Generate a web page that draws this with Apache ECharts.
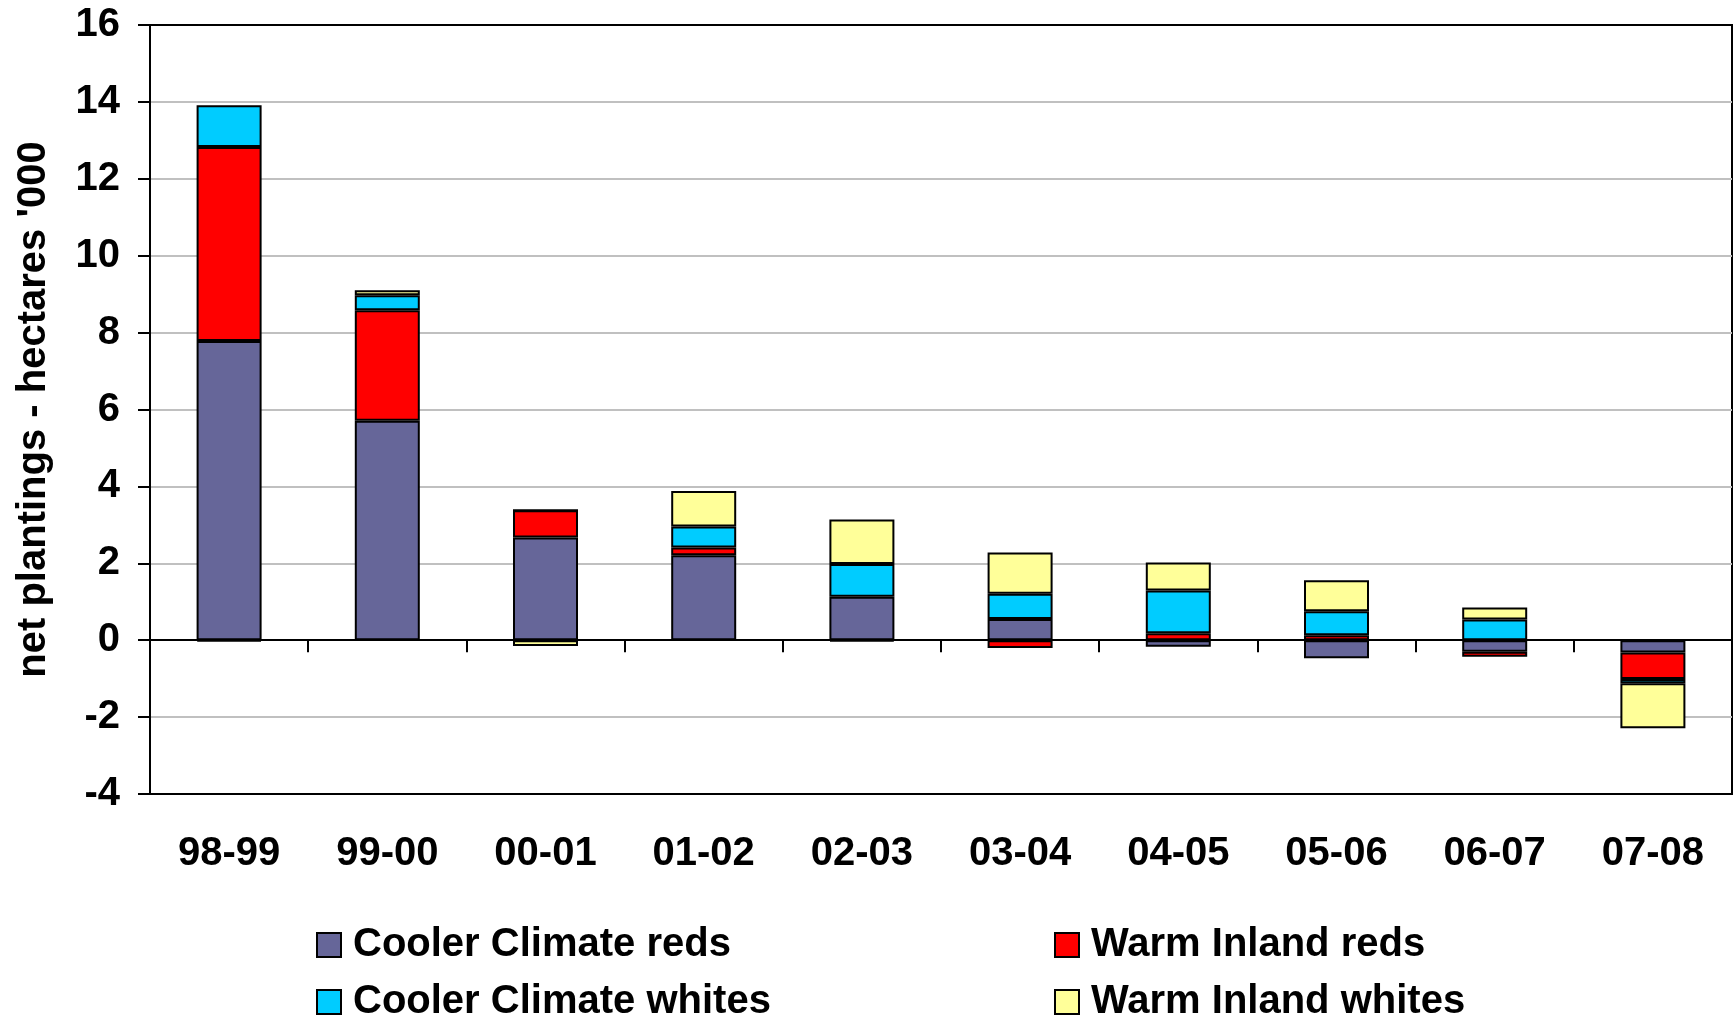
<!DOCTYPE html>
<html>
<head>
<meta charset="utf-8">
<script src="https://cdn.jsdelivr.net/npm/echarts@6/dist/echarts.min.js"></script>
<style>
html,body{margin:0;padding:0;background:#fff;}
#chart{width:1735px;height:1018px;}
</style>
</head>
<body>
<div id="chart"></div>
<script>
const categories = ['98-99','99-00','00-01','01-02','02-03','03-04','04-05','05-06','06-07','07-08'];
const coolerReds   = [7.78, 5.71, 2.67, 2.21, 1.13, 0.55, -0.17, -0.47, -0.30, -0.32];
const warmReds     = [5.05, 2.87, 0.71, 0.20, -0.03, -0.20, 0.18, 0.13, -0.13, -0.69];
const coolerWhites = [1.08, 0.39, 0.00, 0.55, 0.85, 0.66, 1.11, 0.62, 0.54, -0.11];
const warmWhites   = [-0.03, 0.13, -0.15, 0.92, 1.16, 1.07, 0.73, 0.81, 0.31, -1.17];
const yTicks = {min: -4, max: 16, interval: 2};

const FONT = 'Liberation Sans';
const chart = echarts.init(document.getElementById('chart'), null, {renderer: 'canvas'});

function barSeries(name, data, color) {
  return {
    name: name, type: 'bar', stack: 'all', data: data, xAxisIndex: 0,
    barWidth: 65,
    itemStyle: {color: color, borderColor: '#000', borderWidth: 2},
    emphasis: {disabled: true}
  };
}

const legendText = {fontFamily: FONT, fontSize: 40, fontWeight: 'bold', color: '#000', padding: [0, 0, 0, 7]};
function legendItem(name, left, top) {
  return {data: [name], left: left, top: top, itemWidth: 24, itemHeight: 24, padding: 0,
          icon: 'rect', textStyle: legendText, selectedMode: false,
          itemStyle: {borderColor: '#000', borderWidth: 2}};
}

chart.setOption({
  animation: false,
  textStyle: {fontFamily: FONT},
  grid: {left: 150, right: 3, top: 25, bottom: 224, show: true, borderColor: '#000', borderWidth: 2, containLabel: false},
  legend: [
    legendItem('Cooler Climate reds', 316, 925),
    legendItem('Cooler Climate whites', 316, 982),
    legendItem('Warm Inland reds', 1054, 925),
    legendItem('Warm Inland whites', 1054, 982)
  ],
  xAxis: [
    {type: 'category', data: categories, position: 'bottom',
     axisLine: {onZero: true, lineStyle: {color: '#000', width: 2}},
     axisTick: {show: true, alignWithLabel: false, length: 12, lineStyle: {color: '#000', width: 2}},
     axisLabel: {show: false}, splitLine: {show: false}},
    {type: 'category', data: categories, position: 'bottom',
     axisLine: {show: false, onZero: false}, axisTick: {show: false},
     axisLabel: {show: true, margin: 40, fontFamily: FONT, fontSize: 40, fontWeight: 'bold', color: '#000', interval: 0},
     splitLine: {show: false}}
  ],
  yAxis: {
    type: 'value', min: yTicks.min, max: yTicks.max, interval: yTicks.interval,
    name: "net plantings - hectares '000", nameLocation: 'middle', nameGap: 96,
    nameTextStyle: {fontFamily: FONT, fontSize: 40, fontWeight: 'bold', color: '#000'},
    axisLine: {show: true, lineStyle: {color: '#000', width: 2}},
    axisTick: {show: true, length: 12, lineStyle: {color: '#000', width: 2}},
    axisLabel: {margin: 30, fontFamily: FONT, fontSize: 40, fontWeight: 'bold', color: '#000'},
    splitLine: {show: true, showMinLine: false, showMaxLine: false, lineStyle: {color: '#c0c0c0', width: 2}}
  },
  series: [
    barSeries('Cooler Climate reds', coolerReds, '#666699'),
    barSeries('Warm Inland reds', warmReds, '#FF0000'),
    barSeries('Cooler Climate whites', coolerWhites, '#00CCFF'),
    barSeries('Warm Inland whites', warmWhites, '#FFFF99')
  ]
});
</script>
</body>
</html>
